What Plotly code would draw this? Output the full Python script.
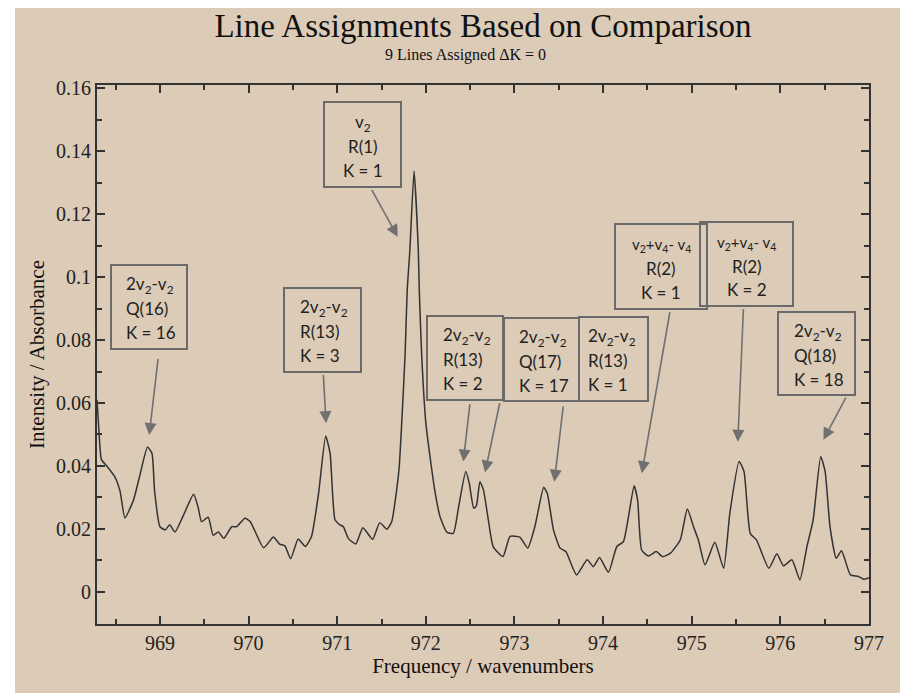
import plotly.graph_objects as go

# ---- spectrum data ----
freq = [968.29, 968.31, 968.34, 968.40, 968.49, 968.55, 968.605, 968.70, 968.77, 968.86,
        968.91, 968.94, 969.00, 969.06, 969.11, 969.17, 969.26, 969.38, 969.43, 969.47,
        969.545, 969.60, 969.66, 969.72, 969.81, 969.865, 969.96, 970.02, 970.17, 970.28,
        970.35, 970.41, 970.475, 970.56, 970.64, 970.71, 970.79, 970.87, 970.92, 970.975,
        971.03, 971.07, 971.125, 971.21, 971.29, 971.40, 971.48, 971.56, 971.615, 971.671,
        971.70, 971.728, 971.765, 971.79, 971.82, 971.867, 971.915, 971.926, 971.954, 972.00,
        972.047, 972.10, 972.16, 972.236, 972.31, 972.37, 972.45, 972.49, 972.54, 972.57,
        972.61, 972.65, 972.705, 972.76, 972.87, 972.95, 973.06, 973.15, 973.23, 973.33,
        973.37, 973.44, 973.515, 973.58, 973.70, 973.82, 973.89, 973.96, 974.06, 974.155,
        974.23, 974.35, 974.39, 974.435, 974.51, 974.60, 974.67, 974.76, 974.87, 974.95,
        975.02, 975.075, 975.15, 975.26, 975.36, 975.43, 975.535, 975.59, 975.66, 975.73,
        975.87, 975.96, 976.035, 976.13, 976.22, 976.30, 976.37, 976.455, 976.505, 976.56,
        976.63, 976.69, 976.79, 976.88, 976.94, 977.00]
absorb = [0.061, 0.052, 0.042, 0.040, 0.0366, 0.032, 0.0235, 0.029, 0.0366, 0.046,
          0.044, 0.032, 0.0207, 0.0197, 0.0213, 0.0190, 0.0240, 0.0310, 0.0270, 0.0223,
          0.0237, 0.0180, 0.0190, 0.0170, 0.0207, 0.0207, 0.0234, 0.0223, 0.0140, 0.0174,
          0.0152, 0.0146, 0.0105, 0.0168, 0.0144, 0.0176, 0.0313, 0.0495, 0.0440, 0.0229,
          0.0213, 0.0207, 0.0170, 0.0152, 0.0204, 0.0167, 0.0220, 0.0199, 0.0223, 0.0324,
          0.0398, 0.0537, 0.0747, 0.0959, 0.1086, 0.1337, 0.1086, 0.0959, 0.0747, 0.0537,
          0.0430, 0.0324, 0.0239, 0.0190, 0.0186, 0.0270, 0.0382, 0.0345, 0.0266, 0.0273,
          0.0350, 0.0324, 0.0229, 0.0144, 0.0112, 0.0176, 0.0174, 0.0139, 0.0207, 0.0332,
          0.0313, 0.0197, 0.0139, 0.0128, 0.0054, 0.0102, 0.0080, 0.0109, 0.0062, 0.0144,
          0.0160, 0.0337, 0.0290, 0.0133, 0.0114, 0.0128, 0.0112, 0.0123, 0.0165, 0.0263,
          0.0207, 0.0165, 0.0086, 0.0158, 0.0075, 0.0250, 0.0414, 0.0382, 0.0186, 0.0165,
          0.0075, 0.0121, 0.0083, 0.0102, 0.0038, 0.0144, 0.0229, 0.0430, 0.0382, 0.0207,
          0.0107, 0.0131, 0.0054, 0.0049, 0.0040, 0.0045]

# ---- axis ticks ----
x_tick_vals = [969, 970, 971, 972, 973, 974, 975, 976, 977]
x_tick_text = ["969", "970", "971", "972", "973", "974", "975", "976", "977"]
y_tick_vals = [0, 0.02, 0.04, 0.06, 0.08, 0.10, 0.12, 0.14, 0.16]
y_tick_text = ["0", "0.02", "0.04", "0.06", "0.08", "0.1", "0.12", "0.14", "0.16"]

# ---- line assignment labels (three lines each) ----
label_band = ["2v<sub>2</sub>-v<sub>2</sub>", "2v<sub>2</sub>-v<sub>2</sub>", "v<sub>2</sub>",
              "2v<sub>2</sub>-v<sub>2</sub>", "2v<sub>2</sub>-v<sub>2</sub>", "2v<sub>2</sub>-v<sub>2</sub>",
              "v<sub>2</sub>+v<sub>4</sub>- v<sub>4</sub>", "v<sub>2</sub>+v<sub>4</sub>- v<sub>4</sub>",
              "2v<sub>2</sub>-v<sub>2</sub>"]
label_branch = ["Q(16)", "R(13)", "R(1)", "R(13)", "Q(17)", "R(13)", "R(2)", "R(2)", "Q(18)"]
label_k = ["K = 16", "K = 3", "K = 1", "K = 2", "K = 17", "K = 1", "K = 1", "K = 2", "K = 18"]
label_x = [968.876, 970.834, 971.286, 972.442, 973.306, 974.118, 974.655, 975.62, 976.41]
label_y = [0.0905, 0.0832, 0.1421, 0.0743, 0.0738, 0.0740, 0.1033, 0.1041, 0.0757]

# arrows: tail (start) and head (peak) positions
arrow_tail_x = [968.981, 970.843, 971.381, 972.499, 972.837, 973.552, 974.756, 975.584, 976.748]
arrow_tail_y = [0.0745, 0.0694, 0.1282, 0.0601, 0.0604, 0.0594, 0.0893, 0.0903, 0.0622]
arrow_head_x = [968.879, 970.874, 971.683, 972.423, 972.668, 973.450, 974.437, 975.520, 976.486]
arrow_head_y = [0.0498, 0.0536, 0.1128, 0.0414, 0.0379, 0.0350, 0.0377, 0.0477, 0.0483]

# styling
BG = "#dccbb7"
box_w = [76, 77, 77, 76, 75, 69, 92, 93, 77]
box_h = [84, 84, 85, 84, 83, 84, 85, 84, 83]
box_align = ["left", "left", "center", "left", "left", "left", "center", "center", "left"]
box_padl = [13, 14, 0, 14, 13, 7, 0, 0, 14]
line_shift = [21.5, -2, -25.5]

# page geometry (the page body adds an 8px offset)
W, H = 900, 685
ML, MR, MT, MB = 89, 39, 77, 69
PW, PH = W - ML - MR, H - MT - MB

fig = go.Figure()
fig.add_trace(go.Scatter(x=freq, y=absorb, mode="lines",
                         line=dict(color="#333333", width=1.5, shape="spline", smoothing=0.5),
                         hoverinfo="skip", showlegend=False))

BOX_FONT = "Lato, Noto Sans, sans-serif"
annotations = []
for i in range(len(label_band)):
    x, y, w, h = label_x[i], label_y[i], box_w[i], box_h[i]
    pad = 2
    # frame
    annotations.append(dict(
        x=x, y=y, xref="x", yref="y", text=" ", showarrow=False,
        width=w - 2 * pad - 2, height=h - 2 * pad - 2, borderpad=pad,
        bordercolor="#6a6a6a", borderwidth=2, bgcolor="rgba(0,0,0,0)",
        xanchor="center", yanchor="middle"))
    lines = [label_band[i], label_branch[i], label_k[i]]
    for j, (txt, ys) in enumerate(zip(lines, line_shift)):
        size = 17
        if j == 0 and "+" in txt:
            size = 15
        if box_align[i] == "left":
            xa, xs = "left", -w / 2 + box_padl[i]
        else:
            xa, xs = "center", 0
        annotations.append(dict(
            x=x, y=y, xref="x", yref="y", text=txt, showarrow=False,
            xanchor=xa, yanchor="middle", xshift=xs, yshift=ys,
            font=dict(family=BOX_FONT, size=size, color="#222222")))

for tx, ty, hx, hy in zip(arrow_tail_x, arrow_tail_y, arrow_head_x, arrow_head_y):
    annotations.append(dict(
        x=hx, y=hy, xref="x", yref="y", ax=tx, ay=ty, axref="x", ayref="y",
        text="", showarrow=True, arrowhead=2, arrowsize=1.5, arrowwidth=1.6,
        arrowcolor="#707070", standoff=0, startstandoff=0))

annotations.append(dict(
    x=(457 - ML) / PW, y=1 + (MT - 47) / PH, xref="paper", yref="paper",
    xanchor="center", yanchor="middle",
    text="9 Lines Assigned \u0394K = 0", showarrow=False,
    font=dict(family="Liberation Serif, Times New Roman, serif", size=16, color="#111111")))

fig.update_layout(
    annotations=annotations,
    width=W, height=H,
    margin=dict(l=ML, r=MR, t=MT, b=MB),
    paper_bgcolor=BG, plot_bgcolor=BG,
    title=dict(text="Line Assignments Based on Comparison", x=0.5, xref="paper",
               xanchor="center", y=1 - 17 / H, yanchor="middle",
               font=dict(family="Liberation Serif, Times New Roman, serif", size=33, color="#111111")),
    shapes=[dict(type="rect", xref="paper", yref="paper",
                 x0=-ML / PW, x1=-(ML - 7) / PW, y0=-MB / PH, y1=1 + MT / PH,
                 fillcolor="white", line=dict(width=0), layer="below")],
)

axis_font = dict(family="Liberation Serif, Times New Roman, serif", size=20, color="#222222")
fig.update_xaxes(range=[968.29, 977.0], tickvals=x_tick_vals, ticktext=x_tick_text,
                 ticks="inside", ticklen=8, tickwidth=1.5, tickcolor="#333333",
                 showline=True, linecolor="#333333", linewidth=2, mirror="allticks",
                 showgrid=False, zeroline=False, tickfont=axis_font,
                 minor=dict(dtick=0.5, tick0=969, ticks="inside", ticklen=5, tickwidth=1.5,
                            tickcolor="#333333", showgrid=False),
                 title=dict(text="Frequency / wavenumbers", standoff=1,
                            font=dict(family="Liberation Serif, Times New Roman, serif", size=21, color="#111111")))
fig.update_yaxes(range=[-0.0102, 0.161], tickvals=y_tick_vals, ticktext=y_tick_text,
                 ticks="inside", ticklen=8, tickwidth=1.5, tickcolor="#333333",
                 showline=True, linecolor="#333333", linewidth=2, mirror="allticks",
                 showgrid=False, zeroline=False, tickfont=axis_font,
                 minor=dict(dtick=0.01, tick0=0, ticks="inside", ticklen=5, tickwidth=1.5,
                            tickcolor="#333333", showgrid=False),
                 title=dict(text="Intensity / Absorbance", standoff=6,
                            font=dict(family="Liberation Serif, Times New Roman, serif", size=21, color="#111111")))

fig.write_html("out.html")
